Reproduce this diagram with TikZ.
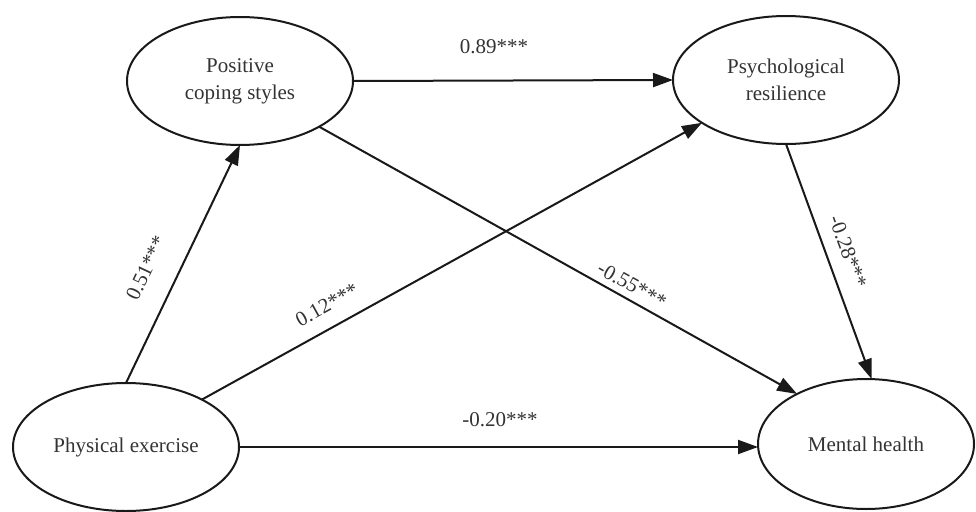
\documentclass[tikz,border=0pt]{standalone}
\usepackage{fontspec}
\setmainfont{Liberation Serif}
\usetikzlibrary{shapes.geometric,arrows.meta}
\begin{document}
\begin{tikzpicture}[x=1pt,y=-1pt,
  var/.style={ellipse,draw=black!90,line width=2pt,minimum width=226pt,minimum height=128pt,
    inner sep=0pt,outer sep=0pt,align=center,text=black!80,font=\fontsize{21}{27}\selectfont},
  link/.style={line width=2pt,draw=black!90,-{Triangle[length=20pt,width=14pt]}},
  coef/.style={text=black!80,font=\fontsize{21}{25}\selectfont,inner sep=0pt}]
\useasboundingbox (0,0) rectangle (976,511);
\node[var] (pos) at (240,81) {Positive\\coping styles};
\node[var] (psy) at (786,80) {Psychological\\resilience};
\node[var] (phy) at (126,447) {Physical exercise};
\node[var,minimum width=216pt,minimum height=130pt] (men) at (866,444) {Mental health};
\draw[link] (phy.north) -- (pos.south);
\draw[link] (phy.32) -- (psy.207);
\draw[link] (phy.east) -- (phy.east -| men.west);
\draw[link] (pos.east) -- (psy.west);
\draw[link] (pos.330) -- (men.144.3);
\draw[link] (psy.south) -- (men.85);
\node[coef] (l089) at (494,47) {0.89***};
\node[coef] (l020) at (500,420) {-0.20***};
\node[coef,rotate=64.7] (l051) at (146,268) {0.51***};
\node[coef,rotate=29] (l012) at (327,305) {0.12***};
\node[coef,rotate=-29.2] (l055) at (632,285) {-0.55***};
\node[coef,rotate=-70] (l028) at (848,252) {-0.28***};
\end{tikzpicture}
\end{document}
